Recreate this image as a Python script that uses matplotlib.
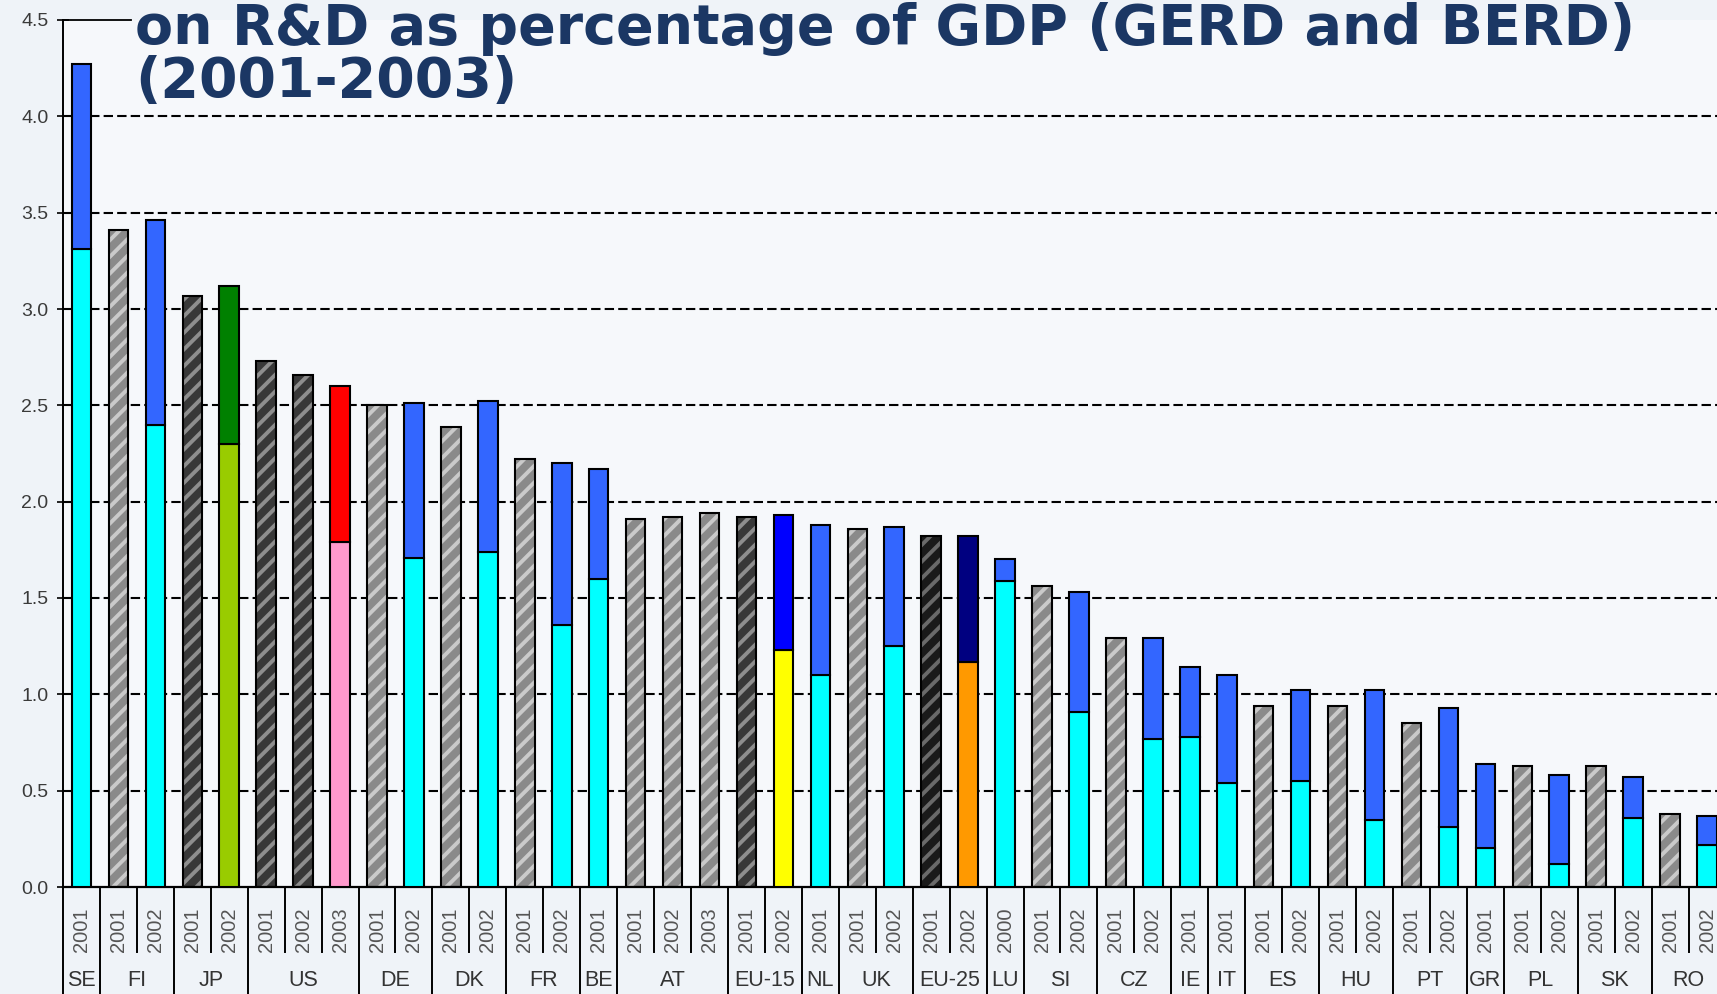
import numpy as np
import matplotlib.pyplot as plt
import matplotlib.transforms as mtransforms

# data
countries = ['SE', 'FI', 'JP', 'US', 'DE', 'DK', 'FR', 'BE', 'AT', 'EU-15', 'NL', 'UK',
             'EU-25', 'LU', 'SI', 'CZ', 'IE', 'IT', 'ES', 'HU', 'PT', 'GR', 'PL', 'SK', 'RO']
years = [['2001'], ['2001', '2002'], ['2001', '2002'], ['2001', '2002', '2003'],
         ['2001', '2002'], ['2001', '2002'], ['2001', '2002'], ['2001'],
         ['2001', '2002', '2003'], ['2001', '2002'], ['2001'], ['2001', '2002'],
         ['2001', '2002'], ['2000'], ['2001', '2002'], ['2001', '2002'], ['2001'],
         ['2001'], ['2001', '2002'], ['2001', '2002'], ['2001', '2002'], ['2001'],
         ['2001', '2002'], ['2001', '2002'], ['2001', '2002']]

# GERD per bar (total height)
gerd = [4.27, 3.41, 3.46, 3.07, 3.12, 2.73, 2.66, 2.60, 2.50, 2.51, 2.39, 2.52,
        2.22, 2.20, 2.17, 1.91, 1.92, 1.94, 1.92, 1.93, 1.88, 1.86, 1.87, 1.82,
        1.82, 1.70, 1.56, 1.53, 1.29, 1.29, 1.14, 1.10, 0.94, 1.02, 0.94, 1.02,
        0.85, 0.93, 0.64, 0.63, 0.58, 0.63, 0.57, 0.38, 0.37]
# BERD per bar (None = only GERD shown, hatched bar)
berd = [3.31, None, 2.40, None, 2.30, None, None, 1.79, None, 1.71, None, 1.74,
        None, 1.36, 1.60, None, None, None, None, 1.23, 1.10, None, 1.25, None,
        1.17, 1.59, None, 0.91, None, 0.77, 0.78, 0.54, None, 0.55, None, 0.35,
        None, 0.31, 0.20, None, 0.12, None, 0.36, None, 0.22]

# styles
dark_hatch = {('JP', '2001'), ('US', '2001'), ('US', '2002'), ('EU-15', '2001')}
black_hatch = {('EU-25', '2001')}
stack_colors = {('JP', '2002'): ('#99cc00', '#008000'),
                ('US', '2003'): ('#ff99cc', '#ff0000'),
                ('EU-15', '2002'): ('#ffff00', '#0000ff'),
                ('EU-25', '2002'): ('#ff9900', '#000080')}
default_stack = ('#00ffff', '#3366ff')

plt.rcParams['font.family'] = ['Liberation Sans', 'DejaVu Sans']
plt.rcParams['hatch.linewidth'] = 2.8

bg = '#eff3f8'
fig = plt.figure(figsize=(17.17, 9.94), dpi=100, facecolor=bg)
ax = fig.add_axes([63 / 1717, 1 - 887 / 994, 1 - 63 / 1717, 867 / 994])
ax.set_facecolor('#f6f8fb')
ax.set_xlim(-0.5, 44.27)
ax.set_ylim(0, 4.5)

bar_country = [c for c, ys in zip(countries, years) for _ in ys]
bar_year = [y for ys in years for y in ys]
x = np.arange(len(gerd))
w = 0.53

for v in np.arange(0.5, 4.01, 0.5):
    ax.axhline(v, color='black', lw=1.5, ls=(0, (4.5, 2)), zorder=1)
ax.axhline(4.5, xmin=0, xmax=0.041, color='black', lw=1.3, clip_on=False)

for i in range(len(gerd)):
    key = (bar_country[i], bar_year[i])
    if berd[i] is None:
        if key in black_hatch:
            face, stripe = '#1a1a1a', '#6a6a6a'
        elif key in dark_hatch:
            face, stripe = '#383838', '#8e8e8e'
        else:
            face, stripe = '#8a8a8a', '#cacaca'
        ax.bar(x[i], gerd[i], width=w, color=face, edgecolor=stripe, hatch='//',
               linewidth=0, zorder=2)
        ax.bar(x[i], gerd[i], width=w, fill=False, edgecolor='black', linewidth=1.5, zorder=3)
    else:
        lo, hi = stack_colors.get(key, default_stack)
        ax.bar(x[i], berd[i], width=w, color=lo, edgecolor='black', linewidth=1.5, zorder=3)
        ax.bar(x[i], gerd[i] - berd[i], bottom=berd[i], width=w, color=hi,
               edgecolor='black', linewidth=1.5, zorder=3)

# axes look
for s in ['top', 'right']:
    ax.spines[s].set_visible(False)
ax.spines['left'].set_linewidth(1.4)
ax.spines['bottom'].set_linewidth(1.6)
ax.set_xticks([])
ax.set_yticks(np.arange(0, 4.51, 0.5))
ax.set_yticklabels(['%.1f' % v for v in np.arange(0, 4.51, 0.5)])
ax.tick_params(axis='y', direction='inout', length=9, width=1.2, pad=6,
               labelsize=14, labelcolor='#3a3a3a')

# category table below the axis
trans = mtransforms.blended_transform_factory(ax.transData, fig.transFigure)
y_axis = 1 - 887 / 994
y_yearsep = 1 - 952 / 994
for i in range(len(gerd)):
    ax.text(x[i], 1 - 930 / 994, bar_year[i], rotation=90, ha='center', va='center',
            transform=trans, fontsize=14.5, color='#555555')

start = 0
ax.plot([-0.5, -0.5], [y_axis, 0], color='black', lw=1.4, transform=trans, clip_on=False)
for c, ys in zip(countries, years):
    n = len(ys)
    ax.text(start + (n - 1) / 2, 1 - 980 / 994, c, ha='center', va='center',
            transform=trans, fontsize=15.5, color='#333333')
    for k in range(n - 1):
        xs = start + k + 0.5
        ax.plot([xs, xs], [y_axis, y_yearsep], color='black', lw=1.4,
                transform=trans, clip_on=False)
    xe = start + n - 0.5
    ax.plot([xe, xe], [y_axis, 0], color='black', lw=1.4, transform=trans, clip_on=False)
    start += n

# title
title_col = '#1b3764'
fig.text(135 / 1717, 1 - 44 / 994, 'on R&D as percentage of GDP (GERD and BERD)',
         fontsize=40, fontweight='bold', color=title_col, family='DejaVu Sans',
         ha='left', va='baseline')
fig.text(135 / 1717, 1 - 97 / 994, '(2001-2003)',
         fontsize=40, fontweight='bold', color=title_col, family='DejaVu Sans',
         ha='left', va='baseline')

fig.savefig('out.png', dpi=100, facecolor=bg)
